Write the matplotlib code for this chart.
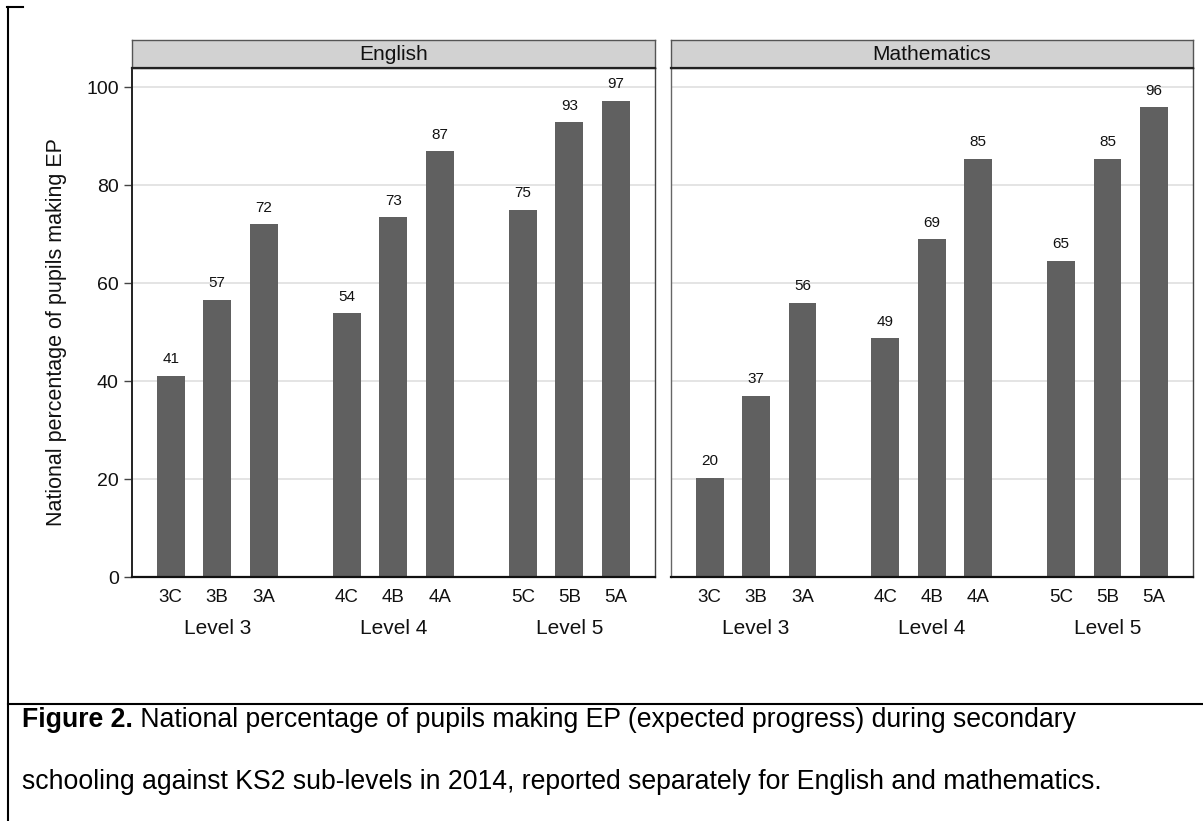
import matplotlib
matplotlib.use("Agg")
import matplotlib.pyplot as plt
import matplotlib.transforms as mtransforms
from matplotlib.lines import Line2D

plt.rcParams['font.family'] = ['Liberation Sans', 'DejaVu Sans']

# ---- data ----
subjects = ['English', 'Mathematics']
sub_levels = ['3C', '3B', '3A', '4C', '4B', '4A', '5C', '5B', '5A']
levels = ['Level 3', 'Level 4', 'Level 5']
english = [41.1, 56.6, 72.0, 53.8, 73.4, 86.9, 75.0, 92.8, 97.2]
maths = [20.2, 37.0, 56.0, 48.7, 68.9, 85.3, 64.6, 85.4, 95.9]
y_ticks = [0, 20, 40, 60, 80, 100]

caption_bold = 'Figure 2.'
caption_line1 = ' National percentage of pupils making EP (expected progress) during secondary'
caption_line2 = 'schooling against KS2 sub-levels in 2014, reported separately for English and mathematics.'

W, H = 1203, 821
BAR = '#606060'
TXT = '#111111'


def rect(x0, y0, x1, y1):
    # pixel box (top-left origin) -> figure fraction rect
    return [x0 / W, 1 - y1 / H, (x1 - x0) / W, (y1 - y0) / H]


fig = plt.figure(figsize=(W / 100, H / 100), dpi=100)

# bar positions: 3 bars per level, wider gap between levels
step = 3.78
pos = [g * step + j for g in range(3) for j in range(3)]
group_centers = [g * step + 1 for g in range(3)]

panels = [(132, 655, english), (671, 1193, maths)]
for i, (x0, x1, vals) in enumerate(panels):
    ax = fig.add_axes(rect(x0, 68, x1, 577))
    ax.bar(pos, vals, width=0.6, color=BAR, zorder=2)
    ax.set_xlim(-0.83, 10.40)
    ax.set_ylim(0, 103.9)
    ax.set_yticks(y_ticks)
    ax.yaxis.grid(True, color='#e2e2e2', lw=1.3, zorder=0)
    ax.set_axisbelow(True)
    ax.set_xticks([])
    for s in ['top', 'right']:
        ax.spines[s].set_color('#444444')
        ax.spines[s].set_linewidth(1.0)
    ax.spines['left'].set_color('#222222' if i == 0 else '#666666')
    ax.spines['left'].set_linewidth(1.4 if i == 0 else 1.0)
    ax.spines['bottom'].set_color('#111111')
    ax.spines['bottom'].set_linewidth(1.6)
    if i == 0:
        ax.tick_params(axis='y', length=6, width=1, color='#444444',
                       labelsize=14, pad=3.5, labelcolor=TXT)
    else:
        ax.tick_params(axis='y', length=0, labelleft=False)

    for p, v in zip(pos, vals):
        ax.annotate(f'{v:.0f}', (p, v), xytext=(0, 12), textcoords='offset points',
                    ha='center', va='center', fontsize=11, color=TXT)

    trans = mtransforms.blended_transform_factory(ax.transData, fig.transFigure)
    for p, lab in zip(pos, sub_levels):
        ax.text(p, 1 - 597 / H, lab, transform=trans, ha='center', va='center',
                fontsize=13.5, color=TXT)
    for c, lab in zip(group_centers, levels):
        ax.text(c, 1 - 628 / H, lab, transform=trans, ha='center', va='center',
                fontsize=15, color=TXT)

    # strip header
    hax = fig.add_axes(rect(x0, 40, x1, 68))
    hax.set_xticks([])
    hax.set_yticks([])
    hax.set_facecolor('#d2d2d2')
    for s in hax.spines.values():
        s.set_color('#555555')
        s.set_linewidth(1.0)
    hax.spines['bottom'].set_color('#222222')
    hax.spines['bottom'].set_linewidth(1.6)
    hax.text(0.5, 0.5, subjects[i], ha='center', va='center', fontsize=15,
             color=TXT, transform=hax.transAxes)

fig.text(57 / W, 1 - 332 / H, 'National percentage of pupils making EP',
         rotation=90, ha='center', va='center', fontsize=15.5, color=TXT)

# outer frame of the document table
lw = 1.5
fig.add_artist(Line2D([8 / W, 8 / W], [1 - 7 / H, 0], color='black', lw=lw))
fig.add_artist(Line2D([7 / W, 23 / W], [1 - 7 / H, 1 - 7 / H], color='black', lw=lw))
fig.add_artist(Line2D([8 / W, 1], [1 - 704 / H, 1 - 704 / H], color='black', lw=lw))

# caption
t1 = fig.text(22 / W, 1 - 727 / H, caption_bold, fontsize=19.2, fontweight='bold',
              ha='left', va='baseline', color='black')
fig.canvas.draw()
bb = t1.get_window_extent(fig.canvas.get_renderer())
fig.text(bb.x1 / W, 1 - 727 / H, caption_line1, fontsize=19.2, ha='left',
         va='baseline', color='black')
fig.text(22 / W, 1 - 789 / H, caption_line2, fontsize=19.2, ha='left',
         va='baseline', color='black')

fig.savefig('out.png', dpi=100)
